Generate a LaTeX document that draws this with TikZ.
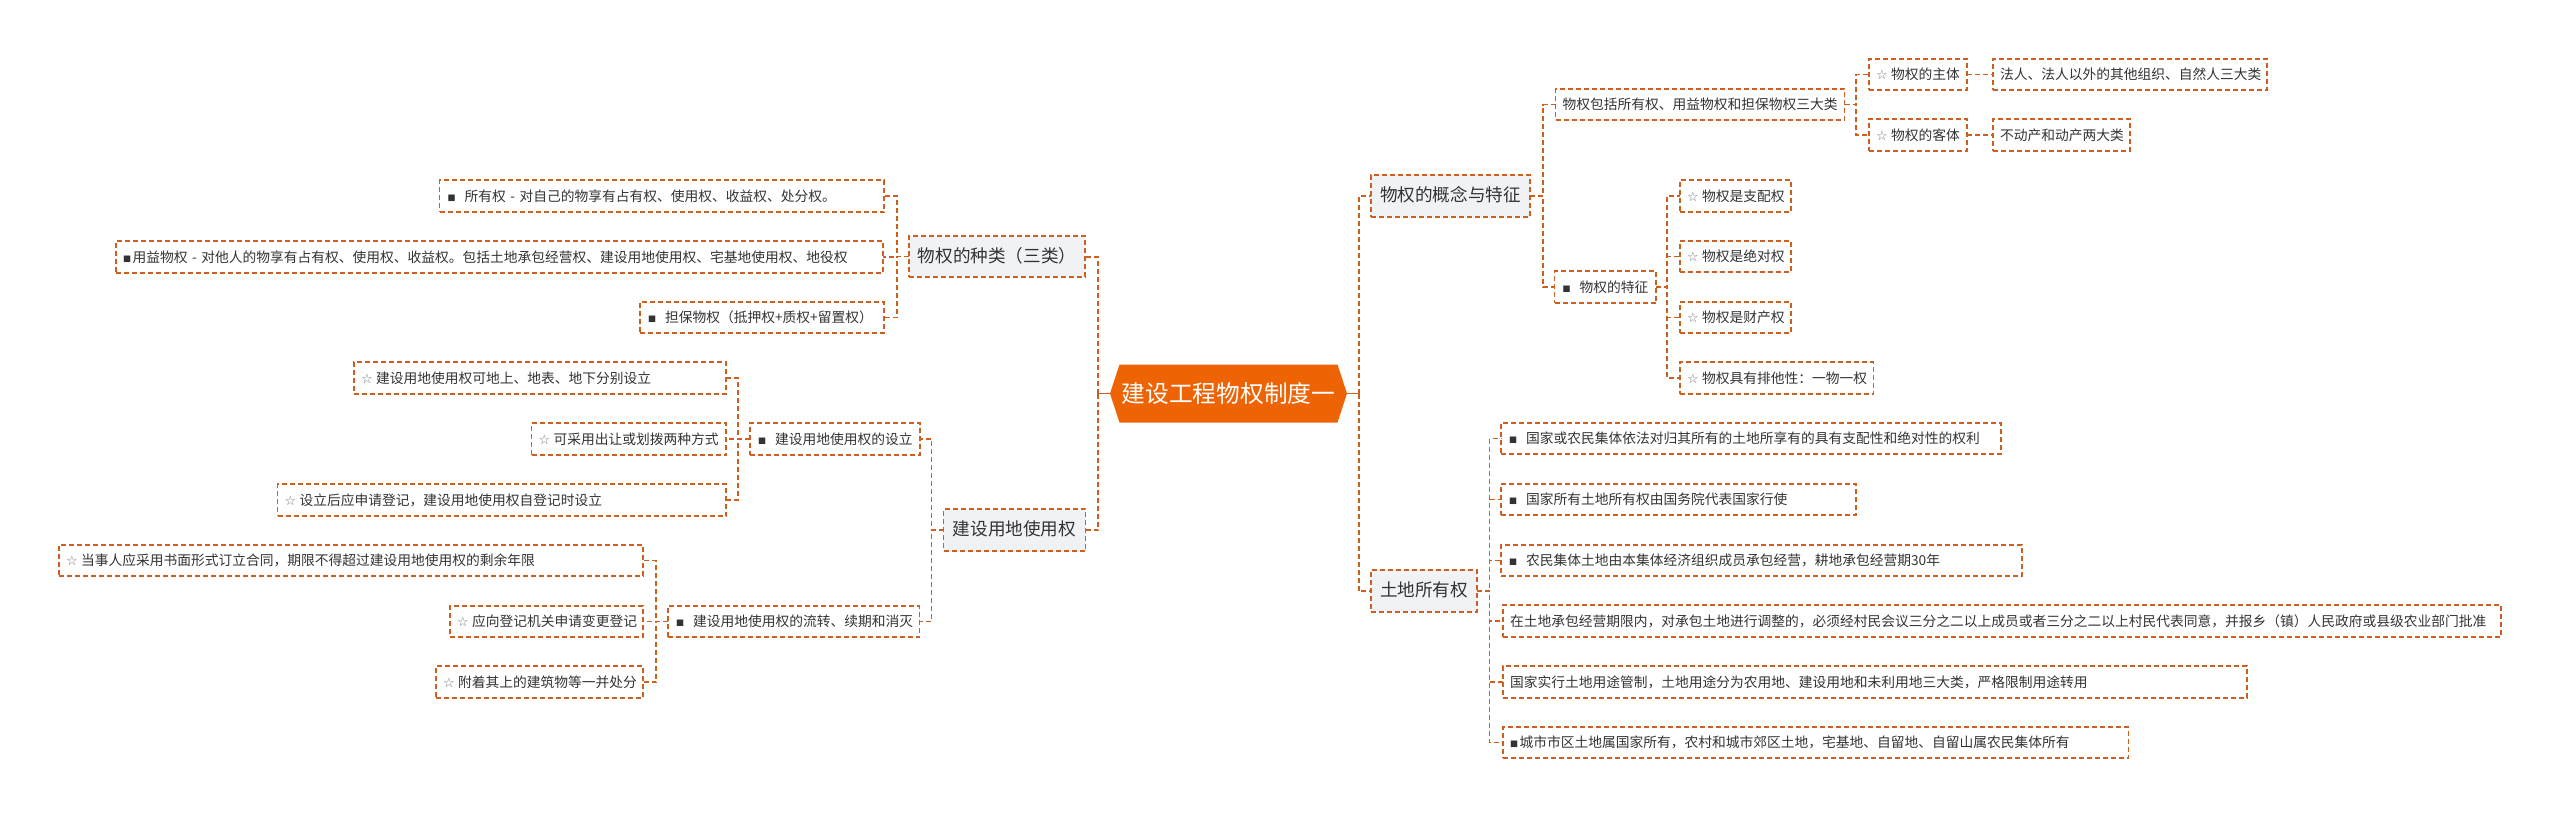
\documentclass[tikz,border=0pt]{standalone}
\usepackage{fontspec}
\usetikzlibrary{shapes.symbols}
\setmainfont{Noto Sans CJK SC}
\newfontfamily\dejavu{DejaVu Sans}
\definecolor{lnk}{HTML}{CE5F1E}
\definecolor{rootc}{HTML}{EE6304}
\definecolor{lvlbg}{HTML}{F0F2F5}
\definecolor{txt}{HTML}{333333}
\definecolor{stc}{HTML}{777777}
\newcommand\sqm{{\fontsize{8.5}{8.5}\dejavu\raisebox{0.6pt}{■}}}
\newcommand\sq{\sqm\hspace{9pt}}
\newcommand\sqn{\sqm\hspace{1.5pt}}
\newcommand\stm{{\fontsize{13}{13}\dejavu\textcolor{stc}{☆}}\hspace{3.5pt}}
\newcommand\bx[7]{%
  \pgfmathsetmacro\bw{#4-#2}%
  \pgfmathsetmacro\bh{#5-#3}%
  \pgfmathsetmacro\tw{#4-#2-14}%
  \node[leaf,minimum width=\bw pt,minimum height=\bh pt,text width=\tw pt,#6] (#1) at ({(#2+#4)/2},{(#3+#5)/2}) {\mbox{#7}};}
\newcommand\cnr[3]{\draw[conn] (#1.east) -- (#2 |- #1.east) |- (#3.west);}
\newcommand\cnl[3]{\draw[conn] (#1.west) -- (#2 |- #1.west) |- (#3.east);}
\tikzset{
  conn/.style={draw=lnk,line width=1.5pt,dash pattern=on 5pt off 3pt},
  mainconn/.style={draw=lnk,line width=2pt,dash pattern=on 5pt off 3pt},
  leaf/.style={draw=lnk,line width=1.5pt,dash pattern=on 5pt off 3pt,inner xsep=7pt,inner ysep=0pt,outer sep=0pt,
    text=txt,align=left,font=\fontsize{13.75}{16}\selectfont,text height=13pt,text depth=3pt},
  lvl/.style={fill=lvlbg,align=center,font=\fontsize{17.6}{20}\selectfont,text height=15pt,text depth=4pt},
  rootn/.style={signal,signal to=west and east,signal pointer angle=143.7,fill=rootc,text=white,inner sep=0pt,outer sep=0pt,
    minimum width=237pt,minimum height=58pt,font=\fontsize{23.7}{28}\selectfont}
}
\begin{document}
\begin{tikzpicture}[x=1pt,y=-1pt]
\useasboundingbox (0,0) rectangle (2560,817);
\fill[white] (0,0) rectangle (2560,817);
\coordinate (bR) at (1358.6,0);
\coordinate (bL) at (1098,0);
\coordinate (bA) at (1543,0);
\coordinate (bB) at (1856,0);
\coordinate (bC) at (1667,0);
\coordinate (bD) at (1489.5,0);
\coordinate (bE) at (897,0);
\coordinate (bF) at (931.4,0);
\coordinate (bG) at (738,0);
\coordinate (bH) at (656,0);

\node[rootn] (root) at (1228.5,393.5) {建设工程物权制度一};

\bx{n1}{1371}{175}{1530}{217}{lvl}{物权的概念与特征}
\bx{a1}{1555.5}{89}{1844.5}{120}{}{物权包括所有权、用益物权和担保物权三大类}
\bx{a2}{1555.5}{271}{1655}{303}{inner xsep=8pt}{\sq 物权的特征}
\bx{b1}{1869}{59}{1967}{90}{}{\stm 物权的主体}
\bx{b2}{1869}{119}{1967}{151}{}{\stm 物权的客体}
\bx{c1}{1993}{59}{2267}{90}{}{法人、法人以外的其他组织、自然人三大类}
\bx{c2}{1993}{119}{2130}{151}{}{不动产和动产两大类}
\bx{d1}{1680}{180}{1791}{212}{}{\stm 物权是支配权}
\bx{d2}{1680}{241}{1791}{272}{}{\stm 物权是绝对权}
\bx{d3}{1680}{302}{1791}{333}{}{\stm 物权是财产权}
\bx{d4}{1680}{362}{1873.5}{394}{}{\stm 物权具有排他性：一物一权}

\bx{n2}{1371}{570}{1477}{612}{lvl}{土地所有权}
\bx{e1}{1502}{423}{2000}{454}{inner xsep=8pt}{\sq 国家或农民集体依法对归其所有的土地所享有的具有支配性和绝对性的权利}
\bx{e2}{1502}{484}{1855}{515}{inner xsep=8pt}{\sq 国家所有土地所有权由国务院代表国家行使}
\bx{e3}{1502}{545}{2021}{576}{inner xsep=8pt}{\sq 农民集体土地由本集体经济组织成员承包经营，耕地承包经营期30年}
\bx{e4}{1503}{605}{2501}{637}{}{在土地承包经营期限内，对承包土地进行调整的，必须经村民会议三分之二以上成员或者三分之二以上村民代表同意，并报乡（镇）人民政府或县级农业部门批准}
\bx{e5}{1503}{666}{2247}{698}{}{国家实行土地用途管制，土地用途分为农用地、建设用地和未利用地三大类，严格限制用途转用}
\bx{e6}{1503}{727}{2128.5}{758}{}{\sqn 城市市区土地属国家所有，农村和城市郊区土地，宅基地、自留地、自留山属农民集体所有}

\bx{n3}{909}{236}{1085}{277}{lvl}{物权的种类（三类）}
\bx{f1}{440.5}{180}{883}{212}{inner xsep=8pt}{\sq 所有权 - 对自己的物享有占有权、使用权、收益权、处分权。}
\bx{f2}{116}{241}{883}{273}{}{\sqn 用益物权 - 对他人的物享有占有权、使用权、收益权。包括土地承包经营权、建设用地使用权、宅基地使用权、地役权}
\bx{f3}{641}{302}{883}{333}{inner xsep=8pt}{\sq 担保物权（抵押权+质权+留置权）}

\bx{n4}{943.5}{509}{1085.5}{551}{lvl}{建设用地使用权}
\bx{g1}{751}{423}{919}{455}{inner xsep=8pt}{\sq 建设用地使用权的设立}
\bx{g2}{669}{606}{918.5}{637}{inner xsep=8pt}{\sq 建设用地使用权的流转、续期和消灭}
\bx{h1}{354}{362}{726}{394}{}{\stm 建设用地使用权可地上、地表、地下分别设立}
\bx{h2}{531.5}{423}{726}{455}{}{\stm 可采用出让或划拨两种方式}
\bx{h3}{277.5}{484}{726}{516}{}{\stm 设立后应申请登记，建设用地使用权自登记时设立}
\bx{i1}{59}{545}{643}{576}{}{\stm 当事人应采用书面形式订立合同，期限不得超过建设用地使用权的剩余年限}
\bx{i2}{450}{606}{643}{637}{}{\stm 应向登记机关申请变更登记}
\bx{i3}{436}{666}{643}{698}{}{\stm 附着其上的建筑物等一并处分}

% root connectors
\draw[draw=lnk,line width=1.8pt] (root.east) -- (bR |- root.east);
\draw[draw=lnk,line width=1.8pt] (root.west) -- (bL |- root.west);
\draw[mainconn] (bR |- root.east) |- (n1.west);
\draw[mainconn] (bR |- root.east) |- (n2.west);
\draw[mainconn] (bL |- root.west) |- (n3.east);
\draw[mainconn] (bL |- root.west) |- (n4.east);
% right side
\cnr{n1}{bA}{a1}\cnr{n1}{bA}{a2}
\cnr{a1}{bB}{b1}\cnr{a1}{bB}{b2}
\draw[conn] (b1.east) -- (c1.west);
\draw[conn] (b2.east) -- (c2.west);
\cnr{a2}{bC}{d1}\cnr{a2}{bC}{d2}\cnr{a2}{bC}{d3}\cnr{a2}{bC}{d4}
\cnr{n2}{bD}{e1}\cnr{n2}{bD}{e2}\cnr{n2}{bD}{e3}\cnr{n2}{bD}{e4}\cnr{n2}{bD}{e5}\cnr{n2}{bD}{e6}
% left side
\cnl{n3}{bE}{f1}\cnl{n3}{bE}{f2}\cnl{n3}{bE}{f3}
\cnl{n4}{bF}{g1}\cnl{n4}{bF}{g2}
\cnl{g1}{bG}{h1}\cnl{g1}{bG}{h2}\cnl{g1}{bG}{h3}
\cnl{g2}{bH}{i1}\cnl{g2}{bH}{i2}\cnl{g2}{bH}{i3}
\end{tikzpicture}
\end{document}
